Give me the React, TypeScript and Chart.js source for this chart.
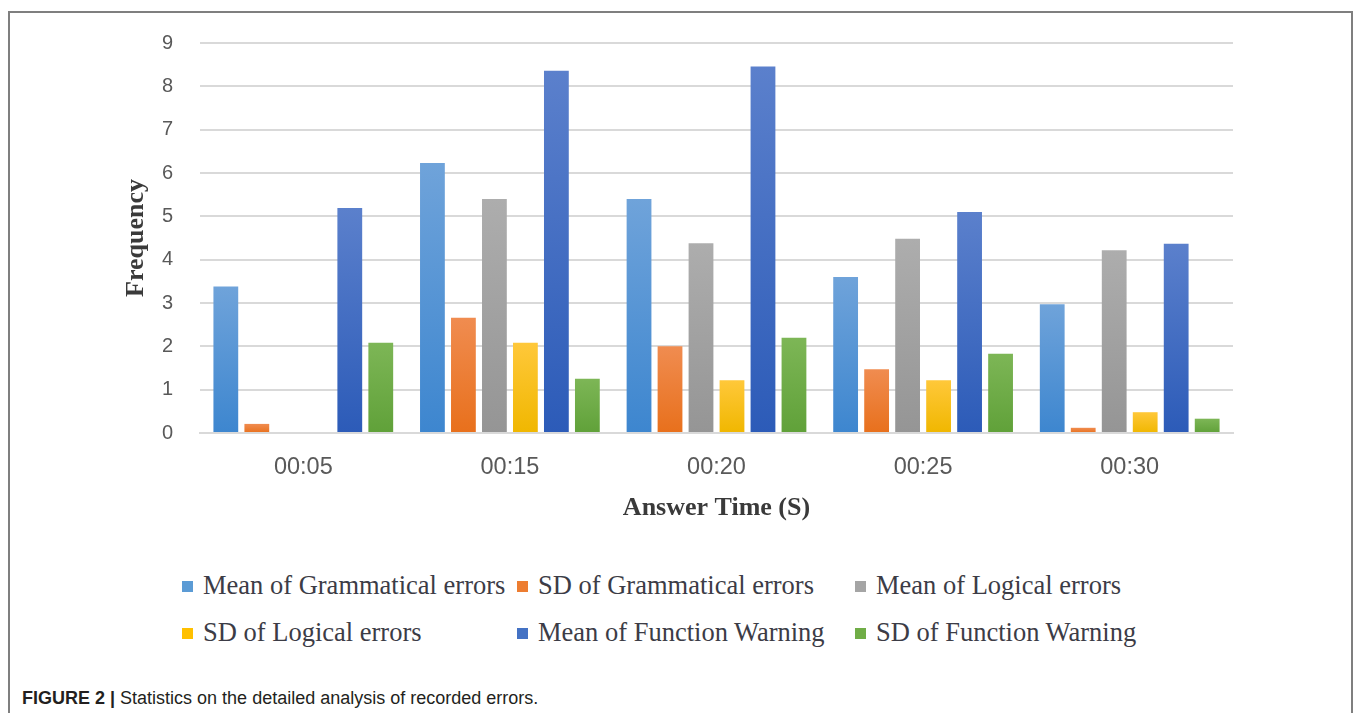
import React, { useEffect, useRef } from "react";
import { Chart, registerables } from "chart.js";

Chart.register(...registerables);

const categories = ["00:05", "00:15", "00:20", "00:25", "00:30"];
const meanGrammatical = [3.38, 6.23, 5.4, 3.6, 2.97];
const sdGrammatical = [0.21, 2.66, 2.0, 1.47, 0.12];
const meanLogical = [0, 5.4, 4.38, 4.48, 4.22];
const sdLogical = [0, 2.08, 1.22, 1.22, 0.48];
const meanFunction = [5.19, 8.36, 8.46, 5.1, 4.37];
const sdFunction = [2.08, 1.25, 2.2, 1.83, 0.33];
const yTicks = [0, 1, 2, 3, 4, 5, 6, 7, 8, 9];

const seriesNames = [
  "Mean of Grammatical errors",
  "SD of Grammatical errors",
  "Mean of Logical errors",
  "SD of Logical errors",
  "Mean of Function Warning",
  "SD of Function Warning",
];
const seriesValues = [meanGrammatical, sdGrammatical, meanLogical, sdLogical, meanFunction, sdFunction];
const seriesTop = ["#6fa3da", "#f08c50", "#adadad", "#ffc83a", "#5b80cc", "#7db656"];
const seriesBottom = ["#3d86cf", "#e8701c", "#959595", "#f0b700", "#2c5bb8", "#60a139"];
const seriesSolid = ["#5b9bd5", "#ed7d31", "#a5a5a5", "#ffc000", "#4472c4", "#70ad47"];

export default function App() {
  const canvasRef = useRef<HTMLCanvasElement | null>(null);

  useEffect(() => {
    document.body.style.margin = "0";
    document.body.style.overflow = "hidden";
    const canvas = canvasRef.current;
    if (!canvas) return;

    const makeBg = (i: number) => (ctx: any) => {
      const chart = ctx.chart;
      const y = chart.scales && chart.scales.y;
      const area = chart.chartArea;
      if (!y || !area || ctx.type !== "data") return seriesSolid[i];
      const v = ctx.raw as number;
      const top = y.getPixelForValue(v);
      const bottom = y.getPixelForValue(0);
      if (!isFinite(top) || !isFinite(bottom) || bottom - top < 1) return seriesSolid[i];
      const g = chart.ctx.createLinearGradient(0, top, 0, bottom);
      g.addColorStop(0, seriesTop[i]);
      g.addColorStop(1, seriesBottom[i]);
      return g;
    };

    const chart = new Chart(canvas, {
      type: "bar",
      data: {
        labels: categories,
        datasets: seriesNames.map((name, i) => ({
          label: name,
          data: seriesValues[i],
          backgroundColor: makeBg(i),
          borderWidth: 0,
          categoryPercentage: 0.9,
          barPercentage: 0.8,
        })),
      },
      options: {
        animation: false,
        responsive: false,
        maintainAspectRatio: false,
        devicePixelRatio: 1,
        layout: { padding: { left: 121, top: 43, right: 127, bottom: 7 } },
        plugins: {
          legend: { display: false },
          tooltip: { enabled: false },
          title: { display: false },
        },
        scales: {
          x: {
            grid: { display: false, drawTicks: false },
            border: { display: true, color: "#d9d9d9", width: 2 },
            ticks: {
              padding: 20,
              color: "#595959",
              font: { family: "'Liberation Sans', Arial, sans-serif", size: 23.5 },
            },
            title: {
              display: true,
              text: "Answer Time (S)",
              color: "#3a3a3a",
              padding: 0,
              font: { family: "'Liberation Serif', 'Times New Roman', serif", size: 26, weight: "bold" },
            },
            afterFit: (scale: any) => {
              scale.height = 91;
            },
          },
          y: {
            min: 0,
            max: 9,
            afterBuildTicks: (scale: any) => {
              scale.ticks = yTicks.map((v) => ({ value: v }));
            },
            grid: { color: "#d9d9d9", lineWidth: 2, drawTicks: false },
            border: { display: false },
            ticks: {
              padding: 27,
              color: "#595959",
              font: { family: "'Liberation Sans', Arial, sans-serif", size: 20 },
            },
            title: {
              display: true,
              text: "Frequency",
              color: "#3a3a3a",
              padding: 0,
              font: { family: "'Liberation Serif', 'Times New Roman', serif", size: 26, weight: "bold" },
            },
            afterFit: (scale: any) => {
              scale.width = 79;
            },
          },
        },
      },
    });
    return () => chart.destroy();
  }, []);

  const colLeft = [182, 517, 855];
  const rowCenter = [585, 632];

  return (
    <div style={{ position: "fixed", left: 0, top: 0, width: 1360, height: 713, overflow: "hidden", background: "#fff" }}>
      <div
        style={{
          position: "absolute",
          left: 8,
          top: 11,
          width: 1345,
          height: 760,
          border: "2px solid #7f7f7f",
          boxSizing: "border-box",
        }}
      />
      <canvas ref={canvasRef} width={1360} height={531} style={{ position: "absolute", left: 0, top: 0, width: 1360, height: 531 }} />
      {seriesNames.map((name, i) => {
        const row = Math.floor(i / 3);
        const col = i % 3;
        return (
          <div
            key={name}
            style={{
              position: "absolute",
              left: colLeft[col],
              top: rowCenter[row] - 16,
              height: 32,
              display: "flex",
              alignItems: "center",
              whiteSpace: "nowrap",
              fontFamily: "'Liberation Serif', 'Times New Roman', serif",
              fontSize: 26.5,
              color: "#3c3c46",
            }}
          >
            <span style={{ display: "inline-block", width: 11, height: 11, background: seriesSolid[i], marginRight: 10, marginTop: 2 }} />
            <span>{name}</span>
          </div>
        );
      })}
      <div
        style={{
          position: "absolute",
          left: 22,
          top: 688,
          fontFamily: "'Liberation Sans', Arial, sans-serif",
          fontSize: 18,
          color: "#231f20",
          whiteSpace: "nowrap",
        }}
      >
        <b>FIGURE 2 |</b> Statistics on the detailed analysis of recorded errors.
      </div>
    </div>
  );
}
